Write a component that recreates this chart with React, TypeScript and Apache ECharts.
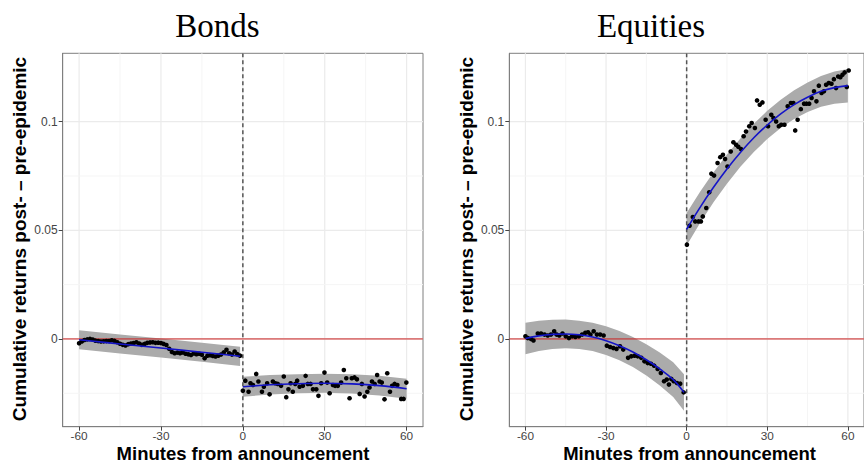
import React, { useEffect, useRef } from "react";
import * as echarts from "echarts";

// ---------- data ----------
const panelTitles = ["Bonds", "Equities"];
const xTitle = "Minutes from announcement";
const yTitle = "Cumulative returns post- \u2013 pre-epidemic";

const xTicks = [-60, -30, 0, 30, 60];
const xMinor = [-45, -15, 15, 45];
const yTicks = [0, 0.05, 0.1];
const yMinor = [-0.025, 0.025, 0.075];

const bondsPre: number[][] = [
  [-60, -0.002], [-59, -0.0012], [-58, -0.0005], [-57, -0.0002], [-56, 0.0], [-55, -0.0003],
  [-54, -0.0008], [-53, -0.001], [-52, -0.0012], [-51, -0.0011], [-50, -0.001], [-49, -0.001],
  [-48, -0.0006], [-47, -0.0009], [-46, -0.0015], [-45, -0.0022], [-44, -0.0027], [-43, -0.003],
  [-42, -0.0024], [-41, -0.0021], [-40, -0.0019], [-39, -0.0015], [-38, -0.0021], [-37, -0.0027],
  [-36, -0.0023], [-35, -0.0018], [-34, -0.0016], [-33, -0.0015], [-32, -0.0018], [-31, -0.0017],
  [-30, -0.0019], [-29, -0.0023], [-28, -0.0028], [-27, -0.0045], [-26, -0.006], [-25, -0.0066],
  [-24, -0.0063], [-23, -0.0066], [-22, -0.0062], [-21, -0.0068], [-20, -0.0071], [-19, -0.0074],
  [-18, -0.0067], [-17, -0.007], [-16, -0.0068], [-15, -0.0073], [-14, -0.0089], [-13, -0.0077],
  [-12, -0.0075], [-11, -0.0078], [-10, -0.0081], [-9, -0.0077], [-8, -0.0072], [-7, -0.0062],
  [-6, -0.005], [-5, -0.0066], [-4, -0.0072], [-3, -0.0058], [-2, -0.007], [-1, -0.0077],
];

const bondsPost: number[][] = [
  [0.0, -0.0238], [0.9, -0.0192], [2.1, -0.0243], [2.8, -0.0204], [3.7, -0.0212], [4.9, -0.0161],
  [5.7, -0.0196], [7.0, -0.0243], [7.7, -0.022], [8.9, -0.0204], [9.8, -0.0255], [11.0, -0.0196],
  [11.9, -0.0204], [12.8, -0.0207], [14.0, -0.0216], [15.0, -0.0173], [15.9, -0.0268], [16.7, -0.0232],
  [17.5, -0.0204], [18.3, -0.0243], [19.2, -0.0207], [19.9, -0.0192], [20.8, -0.022], [22.0, -0.0216],
  [23.0, -0.017], [23.8, -0.0207], [24.8, -0.0207], [25.7, -0.0232], [26.9, -0.0232], [27.7, -0.0262],
  [28.7, -0.0204], [29.9, -0.0155], [30.9, -0.0201], [31.8, -0.025], [33.0, -0.0212], [33.8, -0.0216],
  [34.8, -0.0216], [36.0, -0.0201], [37.0, -0.0143], [37.9, -0.0181], [39.1, -0.0273], [39.9, -0.0181],
  [40.9, -0.0177], [41.8, -0.0186], [42.8, -0.0253], [43.6, -0.0207], [44.6, -0.0265], [45.6, -0.0243],
  [46.4, -0.0223], [47.3, -0.0196], [48.3, -0.0207], [49.2, -0.0166], [50.1, -0.0196], [50.9, -0.0201],
  [51.9, -0.0278], [52.9, -0.0158], [53.9, -0.0243], [54.7, -0.0216], [55.6, -0.0207], [56.6, -0.0212],
  [58.0, -0.0276], [58.9, -0.0276], [59.9, -0.0201],
];

const equitiesPre: number[][] = [
  [-60.0, 0.0012], [-59.1, 0.0004], [-57.9, 0.0], [-57.0, -0.0007], [-55.4, 0.0025], [-54.2, 0.0025],
  [-52.9, 0.002], [-51.7, 0.0016], [-50.5, 0.002], [-49.3, 0.0035], [-48.4, 0.002], [-47.4, 0.0016],
  [-46.2, 0.0025], [-45.0, 0.0012], [-43.8, 0.0004], [-42.6, 0.0012], [-41.4, 0.0009], [-40.1, 0.0012],
  [-38.9, 0.002], [-37.7, 0.0028], [-36.7, 0.0031], [-35.8, 0.002], [-34.6, 0.0035], [-33.4, 0.002],
  [-32.2, 0.002], [-30.9, 0.0016], [-29.7, -0.0031], [-28.5, -0.0037], [-27.3, -0.0042], [-26.1, -0.0046],
  [-24.8, -0.0034], [-23.6, -0.0049], [-21.8, -0.0087], [-20.6, -0.008], [-19.4, -0.0077], [-18.2, -0.008],
  [-16.9, -0.0087], [-15.7, -0.0103], [-14.5, -0.0111], [-13.3, -0.0114], [-12.1, -0.0123], [-10.8, -0.0138],
  [-9.6, -0.0157], [-8.4, -0.0195], [-7.4, -0.0187], [-6.6, -0.021], [-5.7, -0.0184], [-4.8, -0.0195],
  [-3.6, -0.0203], [-2.4, -0.0206], [-1.1, -0.0246],
];

const equitiesPost: number[][] = [
  [0.1, 0.0434], [1.1, 0.0521], [2.3, 0.0561], [3.2, 0.0541], [4.4, 0.0541], [5.3, 0.0541],
  [6.0, 0.0564], [7.3, 0.0603], [8.4, 0.0675], [9.2, 0.0761], [10.2, 0.0752], [11.5, 0.081],
  [12.5, 0.0837], [13.5, 0.0848], [14.3, 0.0828], [15.2, 0.0794], [16.4, 0.0863], [17.4, 0.0905],
  [18.4, 0.0894], [19.2, 0.0885], [20.2, 0.0874], [21.2, 0.0933], [22.1, 0.0955], [23.3, 0.0979],
  [24.2, 0.0994], [25.4, 0.0971], [26.2, 0.1098], [27.2, 0.1078], [28.2, 0.1089], [29.4, 0.1009],
  [30.3, 0.0979], [31.5, 0.1032], [32.3, 0.1017], [33.3, 0.1001], [34.3, 0.0979], [35.2, 0.0986],
  [36.4, 0.0986], [37.6, 0.1071], [38.8, 0.1086], [39.7, 0.1086], [40.4, 0.096], [41.3, 0.1009],
  [42.5, 0.1058], [43.7, 0.1083], [44.6, 0.1083], [45.6, 0.1083], [46.5, 0.1109], [47.4, 0.114],
  [48.3, 0.1094], [49.2, 0.1166], [50.2, 0.1132], [51.1, 0.114], [51.9, 0.117], [52.9, 0.1178],
  [53.9, 0.1175], [54.8, 0.1196], [55.6, 0.1155], [56.4, 0.1208], [57.2, 0.1205], [58.0, 0.1216],
  [58.8, 0.1227], [59.6, 0.116], [60.3, 0.1236],
];

// fitted curves and their bands, read at knots
const bondsPreKnots = [-60, -45, -30, -15, -1];
const bondsPreFit = [-0.0004, -0.0023, -0.0042, -0.0061, -0.008];
const bondsPreUpper = [0.004, 0.0021, 0.0002, -0.0017, -0.0036];
const bondsPreLower = [-0.0048, -0.0067, -0.0086, -0.0105, -0.0124];

const bondsPostKnots = [0, 10, 20, 30, 40, 50, 60];
const bondsPostFit = [-0.022, -0.0211, -0.0206, -0.0204, -0.0207, -0.0215, -0.0229];
const bondsPostUpper = [-0.0174, -0.0166, -0.0162, -0.016, -0.0163, -0.017, -0.0183];
const bondsPostLower = [-0.0266, -0.0256, -0.025, -0.0248, -0.0251, -0.026, -0.0275];

const equitiesPreKnots = [-60, -55, -50, -45, -40, -35, -30, -25, -20, -15, -10, -5, -1];
const equitiesPreFit = [0.0002, 0.0014, 0.0021, 0.0023, 0.0019, 0.0009, -0.0008, -0.0031, -0.006, -0.0096, -0.0138, -0.0187, -0.0246];
const equitiesPreUpper = [0.0075, 0.0084, 0.0088, 0.0089, 0.0084, 0.0074, 0.0058, 0.0036, 0.0009, -0.0024, -0.0062, -0.0107, -0.0162];
const equitiesPreLower = [-0.0071, -0.0056, -0.0046, -0.0043, -0.0046, -0.0056, -0.0074, -0.0098, -0.0129, -0.0168, -0.0214, -0.0267, -0.033];

const equitiesPostKnots = [0, 5, 10, 15, 20, 25, 30, 35, 40, 45, 50, 55, 60];
const equitiesPostFit = [0.0505, 0.0606, 0.0698, 0.0782, 0.0858, 0.0926, 0.0985, 0.1036, 0.1079, 0.1113, 0.114, 0.1157, 0.1166];
const equitiesPostUpper = [0.058, 0.0678, 0.0767, 0.0849, 0.0923, 0.0991, 0.105, 0.1101, 0.1145, 0.1181, 0.1211, 0.1231, 0.1243];
const equitiesPostLower = [0.043, 0.0534, 0.0629, 0.0715, 0.0793, 0.0861, 0.092, 0.0971, 0.1013, 0.1045, 0.1069, 0.1083, 0.1089];

// ---------- styling ----------
const SANS = "Liberation Sans, Arial, sans-serif";
const SERIF = "Liberation Serif, Times New Roman, serif";
const BORDER = "#7f7f7f";
const MAJOR = "#ebebeb";
const MINOR = "#f5f5f5";
const BAND = "#ababab";
const FIT = "#1414c8";
const TICKTEXT = "#444444";

const gridBoxes = [
  { left: 62.7, top: 53.3, width: 360.3, height: 373.4 },
  { left: 509.3, top: 53.3, width: 360, height: 373.4 },
];

function gridLineSeries(gi: number, vertical: boolean) {
  const majors = vertical ? xTicks : yTicks;
  const minors = vertical ? xMinor : yMinor;
  const data = [
    ...majors.map((v) => (vertical ? [v, 0, 1] : [0, v, 1])),
    ...minors.map((v) => (vertical ? [v, 0, 0] : [0, v, 0])),
  ];
  return {
    type: "custom",
    xAxisIndex: gi,
    yAxisIndex: gi,
    silent: true,
    z: 0,
    data,
    encode: { x: 0, y: 1 },
    renderItem: (params: any, api: any) => {
      const cs = params.coordSys;
      const p = api.coord([api.value(0), api.value(1)]);
      const major = api.value(2) === 1;
      const shape = vertical
        ? { x1: p[0], y1: cs.y, x2: p[0], y2: cs.y + cs.height }
        : { x1: cs.x, y1: p[1], x2: cs.x + cs.width, y2: p[1] };
      return {
        type: "line",
        shape,
        style: { stroke: major ? MAJOR : MINOR, lineWidth: major ? 1.2 : 1 },
      };
    },
  };
}

function bandSeries(gi: number, xs: number[], lo: number[], hi: number[]) {
  return {
    type: "custom",
    xAxisIndex: gi,
    yAxisIndex: gi,
    silent: true,
    z: 1,
    data: xs.map((x, i) => [x, lo[i], hi[i]]),
    encode: { x: 0, y: [1, 2] },
    renderItem: (params: any, api: any) => {
      if (params.dataIndexInside !== 0) return null;
      const n = params.dataInsideLength;
      const top: number[][] = [];
      const bot: number[][] = [];
      for (let i = 0; i < n; i++) {
        const x = api.value(0, i);
        top.push(api.coord([x, api.value(2, i)]));
        bot.push(api.coord([x, api.value(1, i)]));
      }
      return {
        type: "polygon",
        shape: { points: top.concat(bot.reverse()) },
        style: { fill: BAND, stroke: null },
      };
    },
  };
}

function refLineSeries(gi: number) {
  return {
    type: "custom",
    xAxisIndex: gi,
    yAxisIndex: gi,
    silent: true,
    z: 2,
    data: [[0, 0]],
    encode: { x: 0, y: 1 },
    renderItem: (params: any, api: any) => {
      const cs = params.coordSys;
      const p = api.coord([api.value(0), api.value(1)]);
      return {
        type: "group",
        children: [
          {
            type: "line",
            shape: { x1: cs.x, y1: p[1], x2: cs.x + cs.width, y2: p[1] },
            style: { stroke: "#cc1f1f", lineWidth: 1 },
          },
          {
            type: "line",
            shape: { x1: p[0], y1: cs.y, x2: p[0], y2: cs.y + cs.height },
            style: { stroke: "#555555", lineWidth: 1.5, lineDash: [4, 3] },
          },
        ],
      };
    },
  };
}

function scatterSeries(gi: number, pts: number[][]) {
  return {
    type: "scatter",
    xAxisIndex: gi,
    yAxisIndex: gi,
    z: 3,
    symbol: "circle",
    symbolSize: 4.6,
    itemStyle: { color: "#000000", opacity: 1 },
    data: pts,
  };
}

function fitSeries(gi: number, xs: number[], ys: number[]) {
  return {
    type: "line",
    xAxisIndex: gi,
    yAxisIndex: gi,
    z: 4,
    smooth: 0.4,
    showSymbol: false,
    symbol: "none",
    lineStyle: { color: FIT, width: 1.6 },
    data: xs.map((x, i) => [x, ys[i]]),
  };
}

function axisPair(gi: number) {
  const xAxis = {
    gridIndex: gi,
    type: "value",
    min: -66,
    max: 66,
    axisLine: { show: true, onZero: false, lineStyle: { color: BORDER, width: 1 } },
    axisTick: { show: true, length: 4, customValues: xTicks, lineStyle: { color: "#444444" } },
    axisLabel: {
      customValues: xTicks,
      color: TICKTEXT,
      fontSize: 11.8,
      fontFamily: SANS,
      margin: 3,
      formatter: (v: number) => String(v),
    },
    splitLine: { show: false },
  };
  const yAxis = {
    gridIndex: gi,
    type: "value",
    min: -0.0404,
    max: 0.1315,
    axisLine: { show: true, onZero: false, lineStyle: { color: BORDER, width: 1 } },
    axisTick: { show: true, length: 4, customValues: yTicks, lineStyle: { color: "#444444" } },
    axisLabel: {
      customValues: yTicks,
      color: TICKTEXT,
      fontSize: 12,
      fontFamily: SANS,
      margin: 5,
      formatter: (v: number) => (v === 0 ? "0" : String(v)),
    },
    splitLine: { show: false },
  };
  return { xAxis, yAxis };
}

export default function App() {
  const ref = useRef<HTMLDivElement>(null);

  useEffect(() => {
    if (!ref.current) return;
    const chart = echarts.init(ref.current, undefined, { renderer: "svg" });
    const a0 = axisPair(0);
    const a1 = axisPair(1);
    const offset = gridBoxes[1].left - gridBoxes[0].left;

    const titleText = (text: string, x: number) => ({
      type: "text",
      x,
      y: 25.6,
      silent: true,
      style: {
        text,
        fill: "#000",
        fontFamily: SERIF,
        fontSize: 33,
        textAlign: "center",
        textVerticalAlign: "middle",
      },
    });
    const xTitleText = (x: number) => ({
      type: "text",
      x,
      y: 453,
      silent: true,
      style: {
        text: xTitle,
        fill: "#000",
        fontFamily: SANS,
        fontWeight: "bold",
        fontSize: 18.5,
        textAlign: "center",
        textVerticalAlign: "middle",
      },
    });
    const yTitleText = (x: number) => ({
      type: "text",
      x,
      y: 239,
      rotation: Math.PI / 2,
      silent: true,
      style: {
        text: yTitle,
        fill: "#000",
        fontFamily: SANS,
        fontWeight: "bold",
        fontSize: 19,
        textAlign: "center",
        textVerticalAlign: "middle",
      },
    });

    chart.setOption({
      animation: false,
      backgroundColor: "#ffffff",
      grid: gridBoxes.map((g) => ({
        ...g,
        show: true,
        borderColor: BORDER,
        borderWidth: 1,
        backgroundColor: "transparent",
        containLabel: false,
      })),
      xAxis: [a0.xAxis, a1.xAxis],
      yAxis: [a0.yAxis, a1.yAxis],
      graphic: [
        titleText(panelTitles[0], 217.5),
        titleText(panelTitles[1], 651),
        xTitleText(243),
        xTitleText(243 + offset),
        yTitleText(19.5),
        yTitleText(19.5 + offset),
      ],
      series: [
        gridLineSeries(0, true),
        gridLineSeries(0, false),
        gridLineSeries(1, true),
        gridLineSeries(1, false),
        bandSeries(0, bondsPreKnots, bondsPreLower, bondsPreUpper),
        bandSeries(0, bondsPostKnots, bondsPostLower, bondsPostUpper),
        bandSeries(1, equitiesPreKnots, equitiesPreLower, equitiesPreUpper),
        bandSeries(1, equitiesPostKnots, equitiesPostLower, equitiesPostUpper),
        refLineSeries(0),
        refLineSeries(1),
        scatterSeries(0, bondsPre),
        scatterSeries(0, bondsPost),
        scatterSeries(1, equitiesPre),
        scatterSeries(1, equitiesPost),
        fitSeries(0, bondsPreKnots, bondsPreFit),
        fitSeries(0, bondsPostKnots, bondsPostFit),
        fitSeries(1, equitiesPreKnots, equitiesPreFit),
        fitSeries(1, equitiesPostKnots, equitiesPostFit),
      ],
    });
    return () => chart.dispose();
  }, []);

  return (
    <div
      ref={ref}
      style={{ position: "fixed", left: 0, top: 0, width: 864, height: 463, background: "#fff" }}
    />
  );
}
